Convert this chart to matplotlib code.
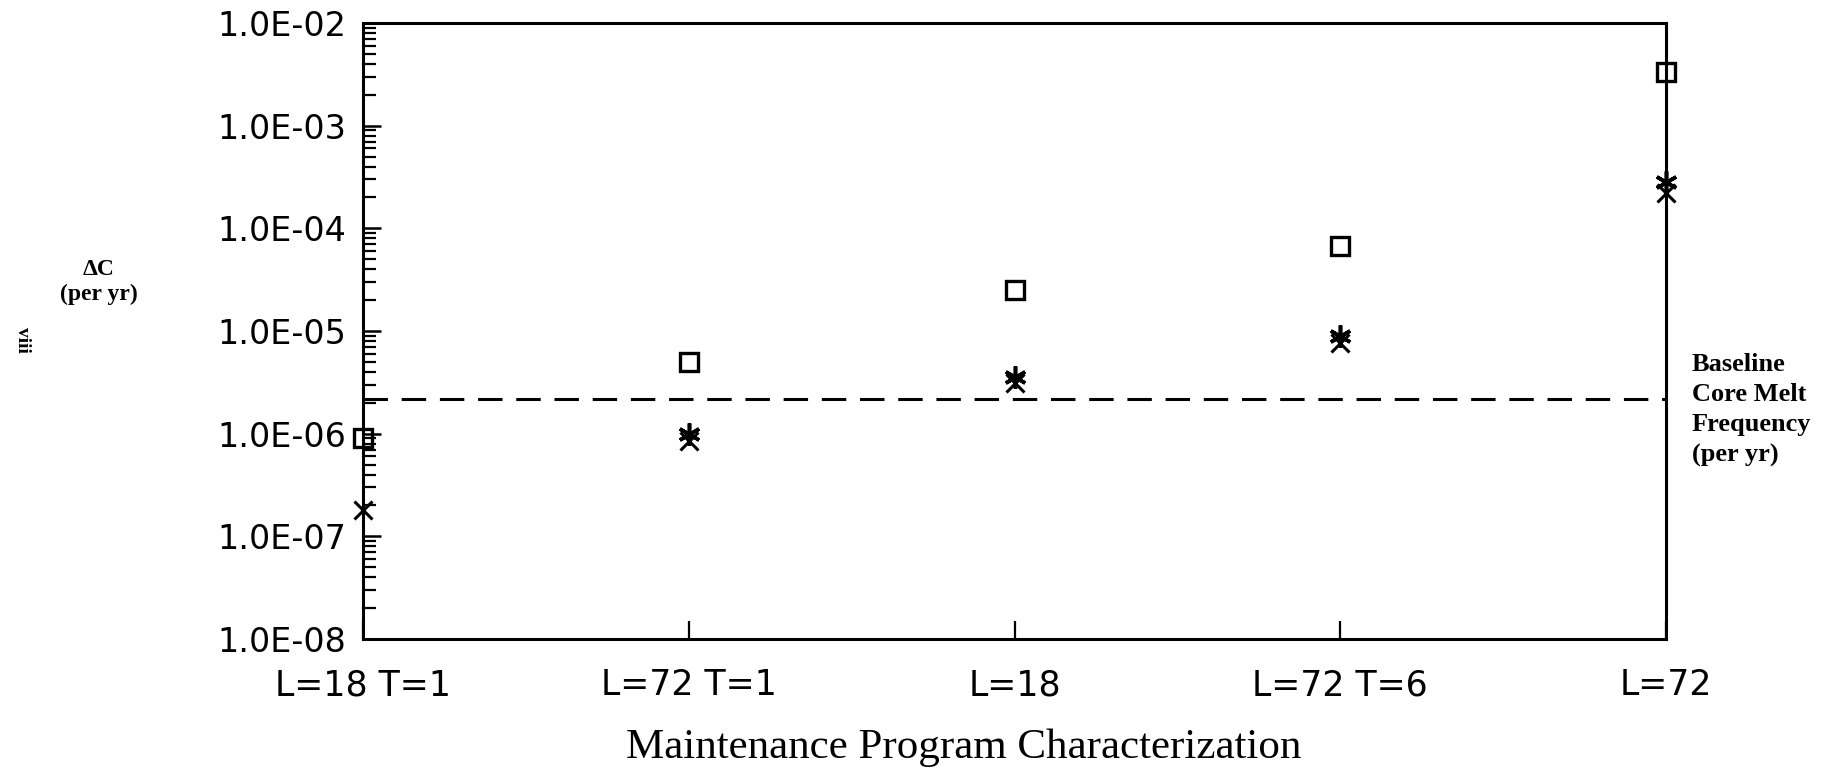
import matplotlib
matplotlib.use("Agg")
import matplotlib.pyplot as plt
import numpy as np
from matplotlib.ticker import LogLocator, FixedLocator, NullFormatter

categories = ["L=18 T=1", "L=72 T=1", "L=18", "L=72 T=6", "L=72"]
square_vals = [9.0e-7, 5.0e-6, 2.5e-5, 6.8e-5, 3.3e-3]
star_vals = [None, 1.0e-6, 3.6e-6, 9.0e-6, 2.8e-4]
x_vals = [1.8e-7, 8.5e-7, 3.1e-6, 7.6e-6, 2.2e-4]
baseline_cmf = 2.2e-6
ytick_vals = [1e-8, 1e-7, 1e-6, 1e-5, 1e-4, 1e-3, 1e-2]
ytick_labels = ["1.0E-08", "1.0E-07", "1.0E-06", "1.0E-05", "1.0E-04", "1.0E-03", "1.0E-02"]

W, H = 1827, 772
fig = plt.figure(figsize=(W / 100, H / 100), dpi=100)
fig.patch.set_facecolor("white")
left, right, top, bottom = 363, 1666, 23, 639
ax = fig.add_axes([left / W, 1 - bottom / H, (right - left) / W, (bottom - top) / H])

xpos = np.arange(len(categories))
ax.set_yscale("log")
ax.set_ylim(1e-8, 1e-2)
ax.set_xlim(xpos[0], xpos[-1])

# data markers
ax.plot(xpos, square_vals, linestyle="none", marker="s", markersize=13,
        markerfacecolor="none", markeredgecolor="black", markeredgewidth=2.4, clip_on=False, zorder=5)
sx = [p for p, v in zip(xpos, star_vals) if v is not None]
sv = [v for v in star_vals if v is not None]
ax.plot(sx, sv, linestyle="none", marker=(6, 2, 0), markersize=16,
        markeredgecolor="black", markeredgewidth=2.6, clip_on=False, zorder=5)
ax.plot(xpos, x_vals, linestyle="none", marker="x", markersize=13,
        markeredgecolor="black", markeredgewidth=2.2, clip_on=False, zorder=5)

# baseline core melt frequency
ax.axhline(baseline_cmf, color="black", linestyle=(0, (8, 4.5)), linewidth=2.2)

# spines
for s in ax.spines.values():
    s.set_linewidth(2.2)
    s.set_color("black")

# y ticks
ax.yaxis.set_major_locator(FixedLocator(ytick_vals))
ax.set_yticklabels(ytick_labels)
ax.yaxis.set_minor_locator(LogLocator(base=10, subs=np.arange(2, 10)))
ax.yaxis.set_minor_formatter(NullFormatter())
ax.tick_params(axis="y", which="major", direction="in", length=13, width=1.8,
               labelsize=24, pad=12, right=False)
ax.tick_params(axis="y", which="minor", direction="in", length=9, width=1.6, right=False)
for lab in ax.get_yticklabels():
    lab.set_fontfamily("DejaVu Sans")

# x ticks
ax.set_xticks(xpos)
ax.set_xticklabels(categories)
ax.tick_params(axis="x", which="major", direction="in", length=13, width=1.6,
               labelsize=25, pad=21, top=False)
for lab in ax.get_xticklabels():
    lab.set_fontfamily("DejaVu Sans")

# x axis title
fig.text(964 / W, 1 - 748 / H, "Maintenance Program Characterization", ha="center", va="center",
         fontsize=31, fontfamily="Liberation Serif")

# y label text
fig.text(99 / W, 1 - 282 / H, "\u0394C\n(per yr)", ha="center", va="center",
         fontsize=17, fontweight="bold", fontfamily="Liberation Serif", linespacing=1.2)

# baseline annotation
fig.text(1692 / W, 1 - 410 / H, "Baseline\nCore Melt\nFrequency\n(per yr)", ha="left", va="center",
         fontsize=19, fontweight="bold", fontfamily="Liberation Serif", linespacing=1.4)

# page number
fig.text(22 / W, 1 - 340 / H, "viii", rotation=-90, ha="center", va="center",
         fontsize=14, fontweight="bold", fontfamily="Liberation Serif")

fig.savefig("out.png", dpi=100, facecolor="white")
